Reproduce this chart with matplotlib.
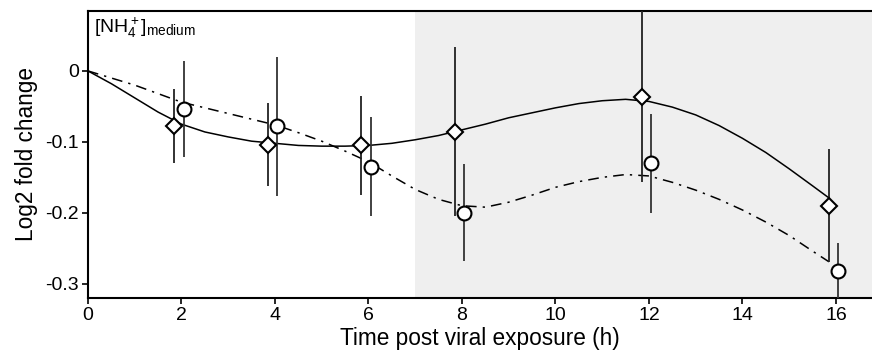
import numpy as np
import matplotlib
matplotlib.use("Agg")
import matplotlib.pyplot as plt
from matplotlib.ticker import FuncFormatter

plt.rcParams['font.family'] = ['Liberation Sans', 'DejaVu Sans']
plt.rcParams['mathtext.fontset'] = 'custom'
plt.rcParams['mathtext.rm'] = 'Liberation Sans'
plt.rcParams['mathtext.it'] = 'Liberation Sans:italic'

# measured points (diamonds / circles), with error bar ends
t_dia = [1.85, 3.85, 5.85, 7.85, 11.85, 15.85]
y_dia = [-0.078, -0.104, -0.105, -0.086, -0.037, -0.190]
lo_dia = [-0.130, -0.162, -0.175, -0.204, -0.157, -0.269]
hi_dia = [-0.025, -0.045, -0.035, 0.034, 0.120, -0.110]

t_cir = [2.05, 4.05, 6.05, 8.05, 12.05, 16.05]
y_cir = [-0.054, -0.078, -0.135, -0.200, -0.130, -0.282]
lo_cir = [-0.121, -0.176, -0.204, -0.268, -0.200, -0.360]
hi_cir = [0.014, 0.020, -0.065, -0.131, -0.061, -0.243]

# fitted curves
t_fit = [0, 0.5, 1, 1.5, 2, 2.5, 3, 3.5, 4, 4.5, 5, 5.5, 6, 6.5, 7, 7.5, 8, 8.5, 9,
         9.5, 10, 10.5, 11, 11.5, 12, 12.5, 13, 13.5, 14, 14.5, 15, 15.5, 15.85]
fit_dia = [0, -0.018, -0.038, -0.058, -0.075, -0.086, -0.093, -0.099, -0.102, -0.105,
           -0.106, -0.106, -0.105, -0.102, -0.097, -0.091, -0.083, -0.075, -0.066,
           -0.059, -0.052, -0.046, -0.042, -0.040, -0.043, -0.051, -0.062, -0.077,
           -0.095, -0.115, -0.138, -0.162, -0.179]
fit_cir = [0, -0.010, -0.020, -0.032, -0.044, -0.052, -0.060, -0.068, -0.076, -0.087,
           -0.099, -0.113, -0.128, -0.148, -0.167, -0.181, -0.190, -0.192, -0.185,
           -0.175, -0.164, -0.156, -0.150, -0.146, -0.148, -0.157, -0.168, -0.181,
           -0.196, -0.213, -0.232, -0.254, -0.269]

fig = plt.figure(figsize=(8.72, 3.54), dpi=100)
ax = fig.add_axes([0.1009, 0.1582, 0.8991, 0.8108])

ax.axvspan(7, 20, color='#efefef', zorder=0, lw=0)

ax.plot(t_fit, fit_dia, color='black', lw=1.1, zorder=2)
ax.plot(t_fit, fit_cir, color='black', lw=1.1, ls=(0, (7, 4, 1.5, 4)), zorder=2)

ax.vlines(t_dia, lo_dia, hi_dia, color='#222222', lw=1.3, zorder=3)
ax.vlines(t_cir, lo_cir, hi_cir, color='#333333', lw=1.3, zorder=3)

ax.plot(t_dia, y_dia, ls='none', marker='D', ms=8, mfc='white', mec='black', mew=1.5, zorder=4)
ax.plot(t_cir, y_cir, ls='none', marker='o', ms=10, mfc='white', mec='black', mew=1.5, zorder=4)

ax.set_xlim(0, 16.77)
ax.set_ylim(-0.32, 0.0845)
ax.set_xticks([0, 2, 4, 6, 8, 10, 12, 14, 16])
ax.set_yticks([0, -0.1, -0.2, -0.3])
ax.yaxis.set_major_formatter(FuncFormatter(lambda v, p: '0' if abs(v) < 1e-9 else '%.1f' % v))
ax.tick_params(axis='both', direction='out', length=4.5, width=1.2, labelsize=14, pad=2)

for s in ['left', 'bottom', 'top']:
    ax.spines[s].set_linewidth(1.5)
ax.spines['right'].set_visible(False)

ax.set_xlabel('Time post viral exposure (h)', fontsize=16.3, labelpad=2)
ax.set_ylabel('Log2 fold change', fontsize=16.3, labelpad=5)

ax.text(0.12, 0.078, r'$[\mathrm{NH}_4^+]_{\mathrm{medium}}$', fontsize=14, va='top', ha='left')

fig.savefig('out.png', dpi=100)
